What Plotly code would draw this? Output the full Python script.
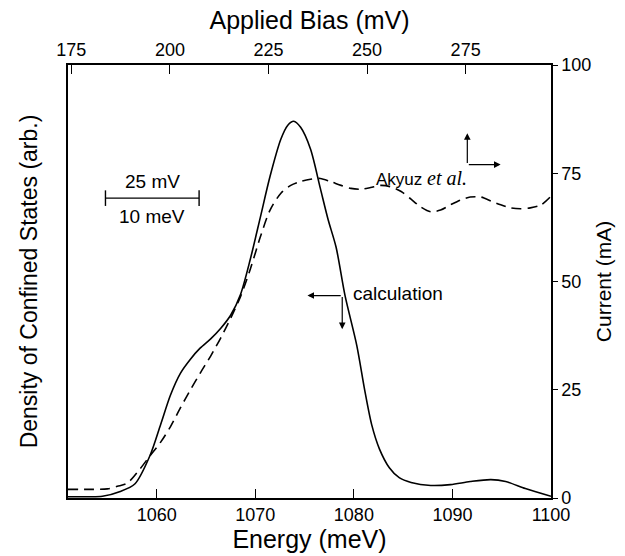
import plotly.graph_objects as go

# ---- data ----
calc_energy = [1051.0, 1053.0, 1054.5, 1056.3, 1057.8, 1059.3, 1060.4, 1061.4, 1062.4, 1063.4,
               1064.4, 1065.5, 1066.5, 1067.5, 1068.5, 1069.5, 1070.5, 1071.5, 1072.6, 1073.3,
               1073.9, 1074.6, 1075.6, 1076.6, 1077.4, 1078.2, 1079.1, 1080.3, 1081.1, 1081.8,
               1082.6, 1083.6, 1084.6, 1085.8, 1087.8, 1089.8, 1091.8, 1093.9, 1095.4, 1097.4, 1100.0]
calc_dos = [0.3, 0.3, 0.4, 1.5, 3.3, 9.7, 17.0, 23.8, 28.8, 32.0,
            34.6, 36.8, 39.2, 42.2, 47.0, 55.2, 64.7, 74.3, 82.9, 86.1,
            87.0, 85.6, 80.6, 71.5, 64.2, 57.9, 46.8, 35.2, 24.9, 17.0,
            11.3, 7.0, 4.7, 3.6, 2.9, 3.1, 3.8, 4.25, 3.8, 2.2, 0.4]

exp_energy = [1051.0, 1053.0, 1055.0, 1056.0, 1057.0, 1058.3, 1059.3, 1060.4, 1061.4, 1062.4,
              1063.4, 1064.4, 1065.5, 1066.5, 1067.5, 1068.5, 1069.5, 1070.5, 1071.5, 1072.6,
              1073.6, 1074.6, 1075.6, 1076.6, 1077.6, 1078.7, 1079.7, 1080.7, 1081.7, 1082.7,
              1083.7, 1084.8, 1085.8, 1086.8, 1087.8, 1088.8, 1089.8, 1090.8, 1091.8, 1092.9,
              1093.9, 1094.9, 1095.9, 1096.9, 1097.9, 1099.0, 1100.0]
exp_current = [2.0, 2.0, 2.1, 2.7, 3.4, 6.7, 9.7, 12.9, 16.5, 20.8,
               24.9, 28.8, 32.9, 37.0, 41.5, 46.5, 52.9, 60.2, 66.5, 70.4,
               72.2, 73.1, 73.6, 73.8, 73.1, 72.2, 71.5, 71.3, 71.7, 72.2,
               71.9, 70.8, 69.0, 67.2, 66.1, 66.5, 67.7, 68.8, 69.5, 69.5,
               68.6, 67.7, 67.0, 66.8, 67.0, 67.7, 69.7]

energy_ticks = [1060, 1070, 1080, 1090, 1100]
bias_ticks = [175, 200, 225, 250, 275]
current_ticks = [0, 25, 50, 75, 100]
energy_range = [1051.0, 1100.0]
bias_range = [174.15, 296.65]
current_range = [0, 100]

FONT = "Liberation Sans, Arial, Helvetica, sans-serif"
BLACK = "#000000"

fig = go.Figure()
fig.add_trace(go.Scatter(x=calc_energy, y=calc_dos, mode="lines", line=dict(color=BLACK, width=1.6, shape="spline", smoothing=0.8),
                         xaxis="x", yaxis="y", showlegend=False, hoverinfo="skip"))
fig.add_trace(go.Scatter(x=exp_energy, y=exp_current, mode="lines",
                         line=dict(color=BLACK, width=1.6, dash="10px,6px", shape="spline", smoothing=0.8),
                         xaxis="x", yaxis="y2", showlegend=False, hoverinfo="skip"))
# invisible trace to carry the top (bias) axis
fig.add_trace(go.Scatter(x=bias_range, y=[None, None], mode="lines", xaxis="x2", yaxis="y",
                         showlegend=False, hoverinfo="skip"))

axis_common = dict(showline=True, linecolor=BLACK, linewidth=1.5, showgrid=False, zeroline=False,
                   tickcolor=BLACK, tickwidth=1.3, tickfont=dict(family=FONT, size=18, color=BLACK))

fig.update_layout(
    width=625, height=556,
    margin=dict(l=68, r=74, t=65, b=51),
    paper_bgcolor="white", plot_bgcolor="white",
    xaxis=dict(range=energy_range, tickvals=energy_ticks, ticks="inside", ticklen=9,
               title=dict(text="Energy (meV)", font=dict(family=FONT, size=25, color=BLACK), standoff=1),
               **axis_common),
    xaxis2=dict(range=bias_range, tickvals=bias_ticks, ticks="inside", ticklen=9, overlaying="x", side="top",
                anchor="y",
                title=dict(text="Applied Bias (mV)", font=dict(family=FONT, size=25, color=BLACK), standoff=3),
                **axis_common),
    yaxis=dict(range=current_range, showticklabels=False, ticks="",
               title=dict(text="Density of Confined States (arb.)", font=dict(family=FONT, size=23, color=BLACK), standoff=22),
               **axis_common),
    yaxis2=dict(range=current_range, tickvals=current_ticks, ticks="outside", ticklen=5, overlaying="y", side="right",
                anchor="x",
                title=dict(text="Current (mA)", font=dict(family=FONT, size=21, color=BLACK), standoff=6),
                **axis_common),
)

# scale bar: 25 mV = 10 meV
bar_x = [1054.8, 1064.3]
bar_y = 69.25
fig.add_shape(type="line", x0=bar_x[0], x1=bar_x[1], y0=bar_y, y1=bar_y, xref="x", yref="y", line=dict(color=BLACK, width=1.4))
for bx in bar_x:
    fig.add_shape(type="line", x0=bx, x1=bx, y0=bar_y - 1.8, y1=bar_y + 1.8, xref="x", yref="y", line=dict(color=BLACK, width=1.4))
fig.add_annotation(x=sum(bar_x) / 2, y=73.2, xref="x", yref="y", text="25 mV", showarrow=False,
                   font=dict(family=FONT, size=19, color=BLACK))
fig.add_annotation(x=sum(bar_x) / 2, y=65.1, xref="x", yref="y", text="10 meV", showarrow=False,
                   font=dict(family=FONT, size=19, color=BLACK))

# calculation label + arrows (left axis)
calc_corner = (1078.82, 46.75)
fig.add_annotation(x=1075.29, y=calc_corner[1], ax=calc_corner[0], ay=calc_corner[1], xref="x", yref="y", axref="x", ayref="y",
                   text="", showarrow=True, arrowhead=2, arrowsize=1.1, arrowwidth=1.2, arrowcolor=BLACK)
fig.add_annotation(x=calc_corner[0], y=39.0, ax=calc_corner[0], ay=calc_corner[1], xref="x", yref="y", axref="x", ayref="y",
                   text="", showarrow=True, arrowhead=2, arrowsize=1.1, arrowwidth=1.2, arrowcolor=BLACK)
fig.add_annotation(x=1079.7, y=47.3, xref="x", yref="y", text="calculation", showarrow=False, xanchor="left",
                   font=dict(family=FONT, size=19, color=BLACK))

# Akyuz et al. label + arrows (right axis)
ak_corner = (1091.51, 77.0)
fig.add_annotation(x=1094.89, y=ak_corner[1], ax=ak_corner[0], ay=ak_corner[1], xref="x", yref="y", axref="x", ayref="y",
                   text="", showarrow=True, arrowhead=2, arrowsize=1.1, arrowwidth=1.2, arrowcolor=BLACK)
fig.add_annotation(x=ak_corner[0], y=84.25, ax=ak_corner[0], ay=ak_corner[1], xref="x", yref="y", axref="x", ayref="y",
                   text="", showarrow=True, arrowhead=2, arrowsize=1.1, arrowwidth=1.2, arrowcolor=BLACK)
fig.add_annotation(x=1091.64, y=73.8, xref="x", yref="y",
                   text="Akyuz <span style='font-family:Liberation Serif, Times New Roman, serif;font-size:20px'><i>et al.</i></span>",
                   showarrow=False, xanchor="right", font=dict(family=FONT, size=17, color=BLACK))

fig.write_html("out.html")
